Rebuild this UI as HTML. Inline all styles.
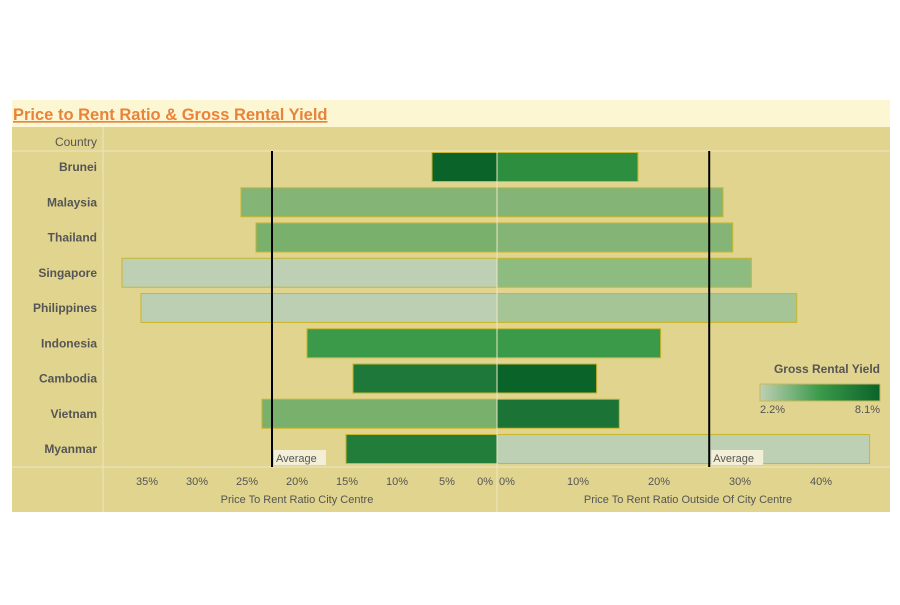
<!DOCTYPE html>
<html><head><meta charset="utf-8"><style>
body{margin:0;background:#fff;width:900px;height:600px;overflow:hidden;font-family:"Liberation Sans",sans-serif}
</style></head><body>
<svg id="chart" width="900" height="600" xmlns="http://www.w3.org/2000/svg">
<rect x="12" y="100" width="878" height="412" fill="#fdf6d3"/>
<text x="13" y="120" font-size="16.5" font-weight="bold" fill="#e8833a" text-decoration="underline">Price to Rent Ratio &amp; Gross Rental Yield</text>
<rect x="12" y="127" width="878" height="385" fill="#e0d48f"/>
<line x1="12" y1="151" x2="890" y2="151" stroke="#ece6c0"/>
<line x1="12" y1="467" x2="890" y2="467" stroke="#ece6c0"/>
<line x1="103" y1="127" x2="103" y2="512" stroke="#ece6c0"/>
<text x="97" y="146" font-size="12" fill="#555" text-anchor="end">Country</text>
<g id="bars"></g>
<line x1="497" y1="151" x2="497" y2="512" stroke="#ece6c0"/>
<g id="avg"></g>
<g id="axes"></g>
<text x="297" y="503" font-size="11" fill="#555" text-anchor="middle">Price To Rent Ratio City Centre</text>
<text x="688" y="503" font-size="11" fill="#555" text-anchor="middle">Price To Rent Ratio Outside Of City Centre</text>
<g>
<defs><linearGradient id="grad" x1="0" x2="1"><stop offset="0" stop-color="#bed0b4"/><stop offset="0.5" stop-color="#3a9a4a"/><stop offset="1" stop-color="#0a6329"/></linearGradient></defs>
<text x="880" y="373" font-size="12" font-weight="bold" fill="#555" text-anchor="end">Gross Rental Yield</text>
<rect x="760" y="384" width="120" height="17" fill="url(#grad)" stroke="#c9b75a"/>
<text x="760" y="413" font-size="11" fill="#555">2.2%</text>
<text x="880" y="413" font-size="11" fill="#555" text-anchor="end">8.1%</text>
</g>
</svg>
<script>
const countries=["Brunei","Malaysia","Thailand","Singapore","Philippines","Indonesia","Cambodia","Vietnam","Myanmar"];
const cityCentre=[6.5,25.6,24.1,37.5,35.6,19.0,14.4,23.5,15.1];
const outsideCentre=[17.4,27.9,29.1,31.4,37.0,20.2,12.3,15.1,46.0];
const leftColors=["#0a6329","#84b577","#78b06c","#bed0b4","#bccfb3","#3a9a4a","#1e783a","#78b06c","#237d3a"];
const rightColors=["#2e8e3f","#84b577","#84b577","#8ebb80","#a6c597","#3a9a4a","#0a6329","#1b7435","#bed0b4"];
const leftTicks=[35,30,25,20,15,10,5,0];
const rightTicks=[0,10,20,30,40];
const avgLeft=22.5, avgRight=26.2;
const NS="http://www.w3.org/2000/svg";
const X0=497;
const xL=v=>X0-v*10.0;
const xR=v=>X0+v*8.1;
const rowY=i=>167+i*35.25;
const BH=29;
function mk(t,a,p){const e=document.createElementNS(NS,t);for(const k in a)e.setAttribute(k,a[k]);p.appendChild(e);return e;}
const bars=document.getElementById('bars');
countries.forEach((c,i)=>{
  const y=rowY(i);
  const l=mk('text',{x:97,y:y+4,'font-size':12,'font-weight':'bold',fill:'#555','text-anchor':'end'},bars);
  l.textContent=c;
  
  
  const a=mk('rect',{x:xL(cityCentre[i]),y:y-BH/2,width:X0-xL(cityCentre[i]),height:BH,fill:leftColors[i],stroke:'#c9b52e','stroke-width':1},bars);
  
  
  const b=mk('rect',{x:X0,y:y-BH/2,width:xR(outsideCentre[i])-X0,height:BH,fill:rightColors[i],stroke:'#c9b52e','stroke-width':1},bars);
  
  
});
const avg=document.getElementById('avg');
[[xL(avgLeft),'left'],[xR(avgRight),'right']].forEach(([x,s])=>{
  const ln=mk('line',{x1:x,y1:151,x2:x,y2:467,stroke:'#000','stroke-width':2},avg);
  
  
  const bg=mk('rect',{x:x+2,y:450,width:52,height:15,fill:'#f3eed6'},avg);
  
  
  const t=mk('text',{x:x+4,y:462,'font-size':11,fill:'#555'},avg);
  t.textContent='Average';
  
  
});
const axes=document.getElementById('axes');
leftTicks.forEach(v=>{
  const t=mk('text',{x:v===0?493:xL(v),y:485,'font-size':11,fill:'#555','text-anchor':v===0?'end':'middle'},axes);
  t.textContent=v+'%';
  
  
});
rightTicks.forEach(v=>{
  const t=mk('text',{x:v===0?499:xR(v),y:485,'font-size':11,fill:'#555','text-anchor':v===0?'start':'middle'},axes);
  t.textContent=v+'%';
  
  
});
</script>
</body></html>
